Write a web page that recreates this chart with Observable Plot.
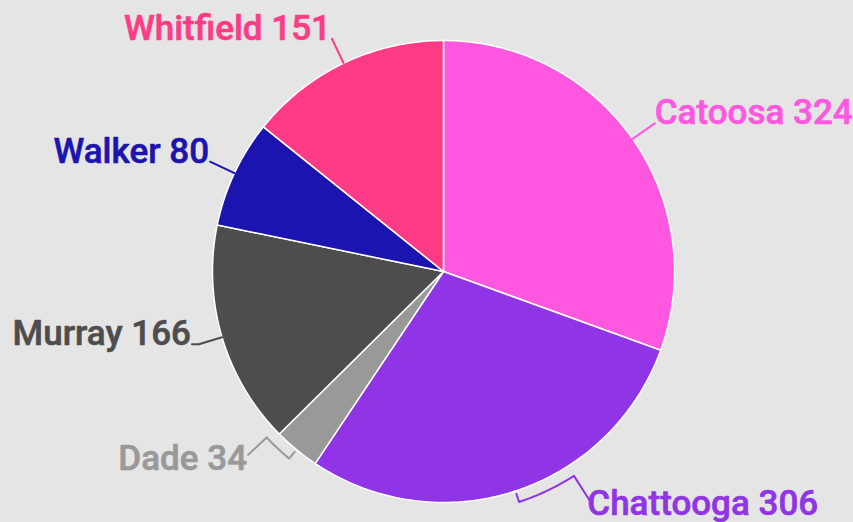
<!DOCTYPE html>
<html>
<head>
<meta charset="utf-8">
<script src="https://cdn.jsdelivr.net/npm/d3@7"></script>
<script src="https://cdn.jsdelivr.net/npm/@observablehq/plot@0.6"></script>
<style>
  html, body { margin: 0; padding: 0; background: #e5e5e5; }
  #chart svg { display: block; }
</style>
</head>
<body>
<div id="chart"></div>
<script>
// ---- data ----
const counties = ["Catoosa", "Chattooga", "Dade", "Murray", "Walker", "Whitfield"];
const counts = [324, 306, 34, 166, 80, 151];
const sliceColors = ["#ff57e0", "#9035e6", "#999999", "#4d4d4d", "#1c14ae", "#ff3b85"];

// ---- layout (styling only) ----
const W = 853, H = 522;
const CX = 443, CY = 271, R = 231;
const leaderKind = ["straight", "bracket", "bracket", "curve", "straight", "straight"];
const bracketSpan = [0, -14.4, 7.3, 0, 0, 0];   // degrees
const leaderOuter = [258, 271, 268, 252, 258, 258];

const rad = d => d * Math.PI / 180;
const P = (a, r) => ({x: r * Math.sin(a), y: -r * Math.cos(a)});

const arcs = d3.pie().sort(null)(counts);

// slice polygons
const slicePts = [];
arcs.forEach((a, i) => {
  const n = Math.max(2, Math.ceil((a.endAngle - a.startAngle) / rad(1)));
  slicePts.push({...P(0, 0), k: counties[i], c: sliceColors[i]});
  for (let j = 0; j <= n; j++) {
    const t = a.startAngle + (a.endAngle - a.startAngle) * j / n;
    slicePts.push({...P(t, R), k: counties[i], c: sliceColors[i]});
  }
  slicePts.push({...P(0, 0), k: counties[i], c: sliceColors[i]});
});

// leaders and labels
const leaderPts = [];
const labels = [];
arcs.forEach((a, i) => {
  const mid = (a.startAngle + a.endAngle) / 2;
  const k = counties[i], c = sliceColors[i];
  let end, pts = [];
  if (leaderKind[i] === "bracket") {
    const rb = 242.5;
    pts.push(P(mid, 234), P(mid, rb));
    const span = rad(bracketSpan[i]);
    const n = 12;
    for (let j = 1; j <= n; j++) pts.push(P(mid + span * j / n, rb));
    end = P(mid + span, leaderOuter[i]);
    pts.push(end);
  } else if (leaderKind[i] === "curve") {
    pts.push(P(mid, R), P(mid, 244));
    const e = P(mid, leaderOuter[i]);
    end = {x: e.x - 10, y: e.y + 1};
    pts.push({x: e.x - 3, y: e.y + 1}, end);
  } else {
    pts.push(P(mid, R));
    end = P(mid, leaderOuter[i]);
    pts.push(end);
  }
  pts.forEach(p => leaderPts.push({...p, k, c}));
  const right = Math.sin(mid) > 0;
  const br = leaderKind[i] === "bracket";
  labels.push({
    x: end.x + (right ? (br ? -2 : 0) : -1),
    y: end.y + (br ? 15 : 1),
    text: `${k} ${counts[i]}`,
    c, right
  });
});

const textOpts = {x: "x", y: "y", text: "text", fill: "c", stroke: "c", strokeWidth: 0.6, lineAnchor: "bottom", fontSize: 35, fontWeight: 500};

const chart = Plot.plot({
  width: W,
  height: H,
  margin: 0,
  x: {domain: [-CX, W - CX], range: [0, W], axis: null},
  y: {domain: [-CY, H - CY], range: [0, H], axis: null},
  style: {background: "#e5e5e5", fontFamily: "Roboto, 'Noto Sans', sans-serif"},
  marks: [
    Plot.line(slicePts, {x: "x", y: "y", z: "k", fill: "c", stroke: "white", strokeWidth: 1.5, strokeLinejoin: "round", curve: "linear"}),
    Plot.line(leaderPts, {x: "x", y: "y", z: "k", stroke: "c", strokeWidth: 2, curve: "linear"}),
    Plot.text(labels.filter(d => d.right), {...textOpts, textAnchor: "start"}),
    Plot.text(labels.filter(d => !d.right), {...textOpts, textAnchor: "end"})
  ]
});
document.getElementById("chart").appendChild(chart);
</script>
</body>
</html>
